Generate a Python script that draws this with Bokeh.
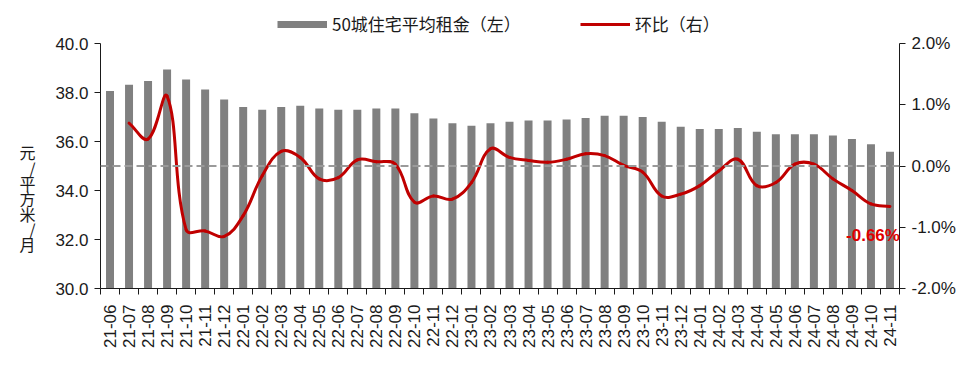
import numpy as np
from bokeh.plotting import figure
from bokeh.models import (Range1d, LinearAxis, FixedTicker, PrintfTickFormatter,
                          Span, Label, Legend, LegendItem, ColumnDataSource)
from bokeh.embed import file_html
from bokeh.resources import INLINE

# ---------------- data ----------------
months = ["21-06", "21-07", "21-08", "21-09", "21-10", "21-11", "21-12",
          "22-01", "22-02", "22-03", "22-04", "22-05", "22-06", "22-07",
          "22-08", "22-09", "22-10", "22-11", "22-12",
          "23-01", "23-02", "23-03", "23-04", "23-05", "23-06", "23-07",
          "23-08", "23-09", "23-10", "23-11", "23-12",
          "24-01", "24-02", "24-03", "24-04", "24-05", "24-06", "24-07",
          "24-08", "24-09", "24-10", "24-11"]

rent = [38.06, 38.32, 38.47, 38.94, 38.53, 38.12, 37.71,
        37.41, 37.30, 37.41, 37.46, 37.35, 37.30, 37.30,
        37.35, 37.35, 37.15, 36.94, 36.75,
        36.64, 36.75, 36.81, 36.86, 36.86, 36.90, 36.96,
        37.05, 37.05, 37.00, 36.81, 36.60,
        36.51, 36.51, 36.55, 36.40, 36.30, 36.30, 36.30,
        36.25, 36.10, 35.89, 35.58]

# month-on-month change in %, first month has no value
mom = [None, 0.70, 0.44, 1.14, -1.04, -1.06, -1.15,
       -0.81, -0.16, 0.24, 0.14, -0.21, -0.19, 0.10,
       0.07, 0.03, -0.59, -0.49, -0.54,
       -0.27, 0.28, 0.14, 0.09, 0.06, 0.11, 0.20,
       0.17, 0.01, -0.10, -0.49, -0.46,
       -0.32, -0.08, 0.11, -0.32, -0.27, 0.03, 0.03,
       -0.21, -0.40, -0.62, -0.66]

left_ticks = [30, 32, 34, 36, 38, 40]
right_ticks = [-2, -1, 0, 1, 2]
bar_label = "50城住宅平均租金（左）"
line_label = "环比（右）"
last_label = "-0.66%"
y_title = "\n" * 7 + "元\n/\n平\n方\n米\n/\n月"

# ---------------- style ----------------
FONT = "'Liberation Sans', Arial, sans-serif"
CJK = "'Noto Sans CJK SC', sans-serif"
TXT = "#1a1a1a"
BAR = "#808080"
RED = "#c00000"

W, H = 974, 374
BL, BR, BB = 100, 75, 86          # borders of the drawing area
PLOT_TOP = 43                      # pixel row of the top of the value axes
n = len(months)
idx = np.arange(n)

fh_axes = H - BB - PLOT_TOP        # height covered by the value axes
L_LO, L_HI = 30.0, 40.0
R_LO, R_HI = -2.0, 2.0
# frame reaches the top of the canvas so that the legend is inside it
l_top = L_HI + PLOT_TOP * (L_HI - L_LO) / fh_axes
r_top = R_HI + PLOT_TOP * (R_HI - R_LO) / fh_axes

p = figure(width=W, height=H, output_backend="svg", toolbar_location=None,
           x_range=Range1d(-0.5, n - 0.5), y_range=Range1d(L_LO, l_top),
           min_border_left=BL, min_border_right=BR, min_border_top=0,
           min_border_bottom=BB)
p.outline_line_color = None
p.xgrid.visible = False
p.ygrid.visible = False
p.background_fill_color = "white"
p.border_fill_color = "white"

p.extra_y_ranges = {"right": Range1d(R_LO, r_top)}

# bars
src = ColumnDataSource(dict(x=idx, top=rent))
p.vbar(x="x", top="top", bottom=L_LO, width=0.42, source=src,
       fill_color=BAR, line_color=None)

# zero line on right axis
p.add_layout(Span(location=0, dimension="width", y_range_name="right",
                  line_color="#9a9a9a", line_width=2, line_dash="8 4"))

# smoothed line: cubic bezier segments through the data points,
# control points from neighbouring points weighted by segment lengths (in pixels)
fw = W - BL - BR
sx, sy = fw / n, fh_axes / (R_HI - R_LO)
xs = np.array([i for i in idx if mom[i] is not None], dtype=float)
ys = np.array([mom[i] for i in idx if mom[i] is not None], dtype=float)
P = np.column_stack([xs * sx, ys * sy])
m = len(P)
T = 0.4
cout = np.zeros_like(P)
cin = np.zeros_like(P)
for i in range(m):
    prv = P[max(i - 1, 0)]
    nxt = P[min(i + 1, m - 1)]
    d = nxt - prv
    l0 = np.hypot(*(P[i] - prv))
    l1 = np.hypot(*(nxt - P[i]))
    tot = l0 + l1 if l0 + l1 > 0 else 1.0
    cout[i] = P[i] + d * T * l1 / tot
    cin[i] = P[i] - d * T * l0 / tot
c0 = cout[:-1]
c1 = cin[1:]
bsrc = ColumnDataSource(dict(
    x0=P[:-1, 0] / sx, y0=P[:-1, 1] / sy, x1=P[1:, 0] / sx, y1=P[1:, 1] / sy,
    cx0=c0[:, 0] / sx, cy0=c0[:, 1] / sy, cx1=c1[:, 0] / sx, cy1=c1[:, 1] / sy))
p.bezier(x0="x0", y0="y0", x1="x1", y1="y1", cx0="cx0", cy0="cy0",
         cx1="cx1", cy1="cy1", source=bsrc, y_range_name="right",
         line_color=RED, line_width=3, line_cap="round")

# legend proxies (a single NaN point draws nothing in the plot)
r_bar_leg = p.line(x=[np.nan], y=[np.nan],
                   line_color=BAR, line_width=7, line_cap="butt")
r_line_leg = p.line(x=[np.nan], y=[np.nan],
                    line_color=RED, line_width=3)
legend = Legend(items=[LegendItem(label=bar_label, renderers=[r_bar_leg]),
                       LegendItem(label=line_label, renderers=[r_line_leg])],
                orientation="horizontal", location=(177, H - BB - 36),
                glyph_width=50, glyph_height=20, label_height=20,
                label_standoff=5, spacing=59, padding=0, margin=0,
                border_line_color=None, background_fill_alpha=0,
                label_text_font=CJK, label_text_font_size="17px",
                label_text_color=TXT)
p.add_layout(legend, "center")

# axes
xa = p.xaxis[0]
xa.ticker = FixedTicker(ticks=list(idx), minor_ticks=list(np.arange(-0.5, n, 1.0)))
xa.major_label_overrides = {int(i): mo for i, mo in zip(idx, months)}
xa.major_label_orientation = np.pi / 2
xa.major_tick_out = 0
xa.major_tick_in = 0
xa.minor_tick_out = 6
xa.minor_tick_in = 0
xa.minor_tick_line_color = TXT
xa.axis_line_color = TXT
xa.major_label_standoff = 10
xa.major_label_text_font = FONT
xa.major_label_text_font_size = "17px"
xa.major_label_text_color = TXT

ya = p.yaxis[0]
ya.bounds = (L_LO, L_HI)
ya.ticker = FixedTicker(ticks=left_ticks)
ya.formatter = PrintfTickFormatter(format="%.1f")
ya.major_tick_out = 6
ya.major_tick_in = 0
ya.minor_tick_line_color = None
ya.axis_line_color = TXT
ya.major_tick_line_color = TXT
ya.major_label_text_font = FONT
ya.major_label_text_font_size = "17px"
ya.major_label_text_color = TXT
ya.major_label_standoff = 6
ya.axis_label = y_title
ya.axis_label_orientation = "horizontal"
ya.axis_label_text_font = CJK
ya.axis_label_text_font_size = "16px"
ya.axis_label_text_font_style = "normal"
ya.axis_label_text_color = TXT
ya.axis_label_text_line_height = 0.64
ya.axis_label_standoff = 17

ra = LinearAxis(y_range_name="right", ticker=FixedTicker(ticks=right_ticks),
                formatter=PrintfTickFormatter(format="%.1f%%"),
                bounds=(R_LO, R_HI))
ra.major_tick_out = 6
ra.major_tick_in = 0
ra.minor_tick_line_color = None
ra.axis_line_color = TXT
ra.major_tick_line_color = TXT
ra.major_label_text_font = FONT
ra.major_label_text_font_size = "17px"
ra.major_label_text_color = TXT
ra.major_label_standoff = 6
p.add_layout(ra, "right")

# end-value annotation
p.add_layout(Label(x=n - 1, y=-1.13, y_range_name="right", x_offset=-17,
                   text=last_label, text_align="center", text_baseline="middle",
                   text_font=FONT, text_font_style="bold", text_font_size="17px",
                   text_color="#e00000"))

open("out.html", "w").write(file_html(p, INLINE))
